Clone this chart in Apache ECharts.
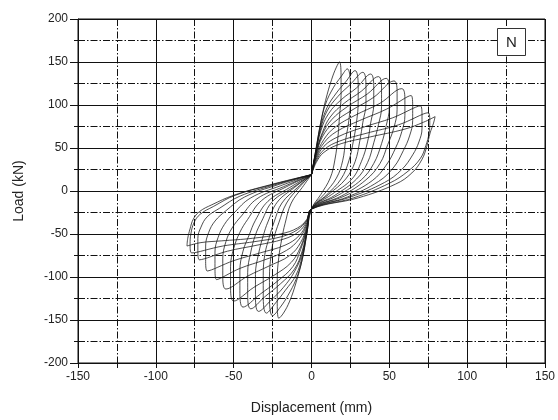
<!DOCTYPE html>
<html>
<head>
<meta charset="utf-8">
<script src="https://cdn.jsdelivr.net/npm/echarts@6.0.0/dist/echarts.min.js"></script>
<style>
  html, body { margin: 0; padding: 0; background: #fff; }
  #main { width: 558px; height: 420px; }
</style>
</head>
<body>
<div id="main"></div>
<script>
// axis ranges / ticks
var xTicks = [-150, -100, -50, 0, 50, 100, 150];
var yTicks = [-200, -150, -100, -50, 0, 50, 100, 150, 200];

// load-displacement loops, one array per cycle
// path: pinch (0,19) -> positive peak -> pinch (0,-21) -> negative peak -> back to (0,19)
var cyc01 = [[0,19],[3,50],[6,80],[9,105],[13,130],[16,144],[18,150],
  [19,132],[19,111],[18,87],[17,63],[15,36],[12,15],[6,-4],[0,-21],
  [-3,-50],[-6,-80],[-10,-107],[-14,-128],[-18,-142],[-21,-148],
  [-22,-128],[-22,-102],[-21,-77],[-19,-55],[-17,-38],[-13,-14],[-6,4],[0,19]];
var cyc02 = [[0,19],[3,50],[6,80],[9,101],[14,120],[19,133],[23,142],
  [25,125],[25,105],[24,82],[22,60],[20,35],[16,15],[8,-4],[0,-21],
  [-3,-50],[-6,-80],[-10,-103],[-15,-121],[-20,-135],[-25,-145],
  [-27,-125],[-27,-100],[-26,-75],[-24,-54],[-21,-37],[-16,-14],[-8,4],[0,19]];
var cyc03 = [[0,19],[3,48],[6,76],[10,97],[16,114],[22,127],[28,140],
  [30,123],[30,104],[29,81],[27,59],[24,35],[19,14],[10,-4],[0,-21],
  [-3,-48],[-6,-76],[-10,-98],[-17,-116],[-23,-130],[-29,-142],
  [-31,-122],[-31,-98],[-30,-74],[-27,-53],[-24,-36],[-19,-14],[-9,4],[0,19]];
var cyc04 = [[0,19],[3,47],[6,73],[10,93],[17,110],[25,124],[33,138],
  [35,121],[35,102],[33,80],[31,58],[28,34],[22,14],[11,-4],[0,-21],
  [-3,-47],[-6,-73],[-11,-94],[-18,-112],[-26,-127],[-34,-140],
  [-36,-120],[-36,-97],[-34,-73],[-31,-52],[-28,-36],[-22,-13],[-11,4],[0,19]];
var cyc05 = [[0,19],[3,46],[6,70],[11,90],[19,106],[29,120],[38,136],
  [40,120],[40,101],[38,79],[36,57],[32,34],[26,14],[13,-4],[0,-21],
  [-3,-46],[-6,-70],[-11,-91],[-20,-108],[-30,-123],[-39,-137],
  [-41,-118],[-41,-95],[-39,-71],[-36,-51],[-32,-35],[-25,-12],[-12,4],[0,19]];
var cyc06 = [[0,19],[3,45],[7,68],[12,86],[21,102],[32,116],[43,133],
  [45,117],[45,98],[43,77],[40,56],[36,33],[29,14],[15,-5],[0,-21],
  [-3,-45],[-7,-68],[-12,-88],[-22,-105],[-33,-120],[-44,-135],
  [-46,-116],[-46,-93],[-44,-70],[-40,-51],[-36,-34],[-28,-12],[-14,4],[0,19]];
var cyc07 = [[0,19],[3,44],[7,66],[13,83],[23,98],[36,113],[48,131],
  [50,115],[50,97],[48,76],[45,55],[40,32],[32,13],[17,-5],[0,-21],
  [-3,-43],[-7,-65],[-13,-83],[-24,-98],[-37,-112],[-50,-128],
  [-52,-110],[-52,-88],[-50,-67],[-46,-48],[-41,-33],[-32,-11],[-16,5],[0,19]];
var cyc08 = [[0,19],[3,42],[7,63],[14,79],[26,94],[40,109],[53,128],
  [55,113],[55,95],[53,74],[49,54],[44,32],[35,13],[19,-6],[0,-21],
  [-3,-41],[-7,-60],[-14,-75],[-27,-87],[-41,-99],[-55,-114],
  [-57,-98],[-57,-79],[-55,-59],[-51,-43],[-45,-29],[-35,-9],[-18,5],[0,19]];
var cyc09 = [[0,19],[3,41],[8,60],[15,74],[28,88],[44,102],[58,119],
  [60,105],[60,88],[58,69],[54,50],[48,30],[39,12],[21,-6],[0,-21],
  [-3,-39],[-8,-56],[-16,-69],[-30,-80],[-46,-90],[-61,-103],
  [-62,-89],[-62,-71],[-60,-54],[-56,-39],[-50,-26],[-39,-8],[-20,6],[0,19]];
var cyc10 = [[0,19],[3,39],[8,56],[16,69],[31,82],[48,95],[64,111],
  [65,98],[65,82],[63,64],[59,47],[53,28],[43,11],[23,-7],[0,-21],
  [-3,-37],[-8,-52],[-17,-63],[-33,-72],[-50,-81],[-67,-93],
  [-68,-80],[-68,-64],[-66,-48],[-62,-35],[-55,-23],[-43,-7],[-22,7],[0,19]];
var cyc11 = [[0,19],[3,37],[8,52],[17,63],[33,74],[52,85],[70,99],
  [71,87],[71,73],[69,57],[65,42],[58,25],[47,10],[25,-7],[0,-21],
  [-3,-35],[-8,-47],[-18,-56],[-35,-63],[-54,-70],[-72,-80],
  [-73,-69],[-73,-55],[-71,-42],[-67,-30],[-59,-20],[-46,-6],[-24,7],[0,19]];
var cyc12 = [[0,19],[3,35],[8,48],[18,58],[35,67],[56,77],[75,91],
  [76,80],[75.5,67],[73.5,53],[70,38],[62,23],[50,9],[27,-8],[0,-21],
  [-3,-34],[-9,-45],[-19,-53],[-37,-59],[-57,-64],[-77,-72],
  [-78,-62],[-77.5,-50],[-75.5,-37],[-71.5,-27],[-63,-18],[-49,-5],[-26,7],[0,19]];
var cyc13 = [[0,19],[3,33],[8,45],[19,55],[38,63],[60,72],[72,80],[79.4,86.5],
  [78.4,79],[76.2,67.5],[74.1,52],[70.9,36.5],[64.5,21],[54,8],[30,-8],[0,-21],
  [-3,-33],[-9,-43],[-20,-50],[-38,-55],[-58,-58],[-71,-60],[-80,-64],
  [-79.5,-55],[-78,-44],[-76,-33],[-72,-24],[-64,-16],[-50,-5],[-27,7],[0,19]];

var loops = [cyc01, cyc02, cyc03, cyc04, cyc05, cyc06, cyc07, cyc08, cyc09, cyc10, cyc11, cyc12, cyc13];

var myChart = echarts.init(document.getElementById('main'));

var seriesList = [];
for (var i = 0; i < loops.length; i++) {
  seriesList.push({
    type: 'line',
    data: loops[i],
    showSymbol: false,
    smooth: 0.4,
    lineStyle: { color: '#161616', width: 0.9, opacity: 0.85 },
    silent: true
  });
}

var dashDot = [7, 2, 1.5, 2];

var option = {
  animation: false,
  backgroundColor: '#fff',
  grid: {
    left: 78, right: 11, top: 19, bottom: 56,
    show: true, borderColor: '#111', borderWidth: 1
  },
  xAxis: {
    type: 'value',
    min: xTicks[0], max: xTicks[xTicks.length - 1], interval: 50,
    name: 'Displacement (mm)',
    nameLocation: 'middle', nameGap: 38,
    nameTextStyle: { fontFamily: 'Liberation Sans', fontSize: 14, color: '#222' },
    axisLine: { show: true, onZero: false, lineStyle: { color: '#111', width: 1 } },
    axisTick: { show: true, inside: false, length: 5, lineStyle: { color: '#111' } },
    minorTick: { show: true, splitNumber: 2, length: 5, lineStyle: { color: '#111' } },
    axisLabel: { fontFamily: 'Liberation Sans', fontSize: 12, color: '#222', margin: 8 },
    splitLine: { show: true, lineStyle: { color: '#111', width: 1 } },
    minorSplitLine: { show: true, lineStyle: { color: '#111', width: 1, type: dashDot } }
  },
  yAxis: {
    type: 'value',
    min: yTicks[0], max: yTicks[yTicks.length - 1], interval: 50,
    name: 'Load (kN)',
    nameLocation: 'middle', nameGap: 52, nameRotate: 90,
    nameTextStyle: { fontFamily: 'Liberation Sans', fontSize: 14, color: '#222' },
    axisLine: { show: true, onZero: false, lineStyle: { color: '#111', width: 1 } },
    axisTick: { show: true, inside: false, length: 8, lineStyle: { color: '#111' } },
    minorTick: { show: true, splitNumber: 2, length: 4, lineStyle: { color: '#111' } },
    axisLabel: { fontFamily: 'Liberation Sans', fontSize: 12, color: '#222', margin: 10 },
    splitLine: { show: true, lineStyle: { color: '#111', width: 1 } },
    minorSplitLine: { show: true, lineStyle: { color: '#111', width: 1, type: dashDot } }
  },
  graphic: [
    {
      type: 'group',
      left: 497, top: 28,
      z: 100,
      children: [
        { type: 'rect', z: 100, shape: { x: 0, y: 0, width: 28, height: 27 },
          style: { fill: '#fff', stroke: '#333', lineWidth: 1 } },
        { type: 'text', z: 101, x: 14, y: 14,
          style: { text: 'N', fontFamily: 'Liberation Sans', fontSize: 15, fill: '#222',
                   align: 'center', verticalAlign: 'middle' } }
      ]
    }
  ],
  series: seriesList
};

myChart.setOption(option);
window.addEventListener('resize', function () { myChart.resize(); });
</script>
</body>
</html>
